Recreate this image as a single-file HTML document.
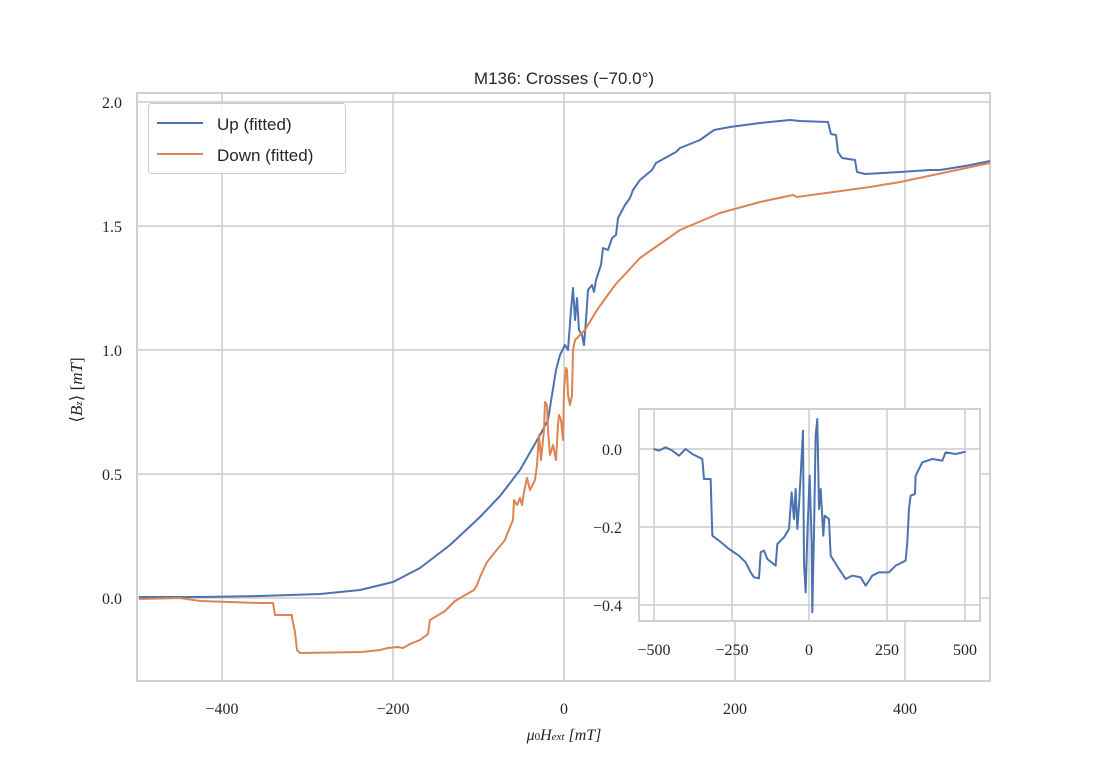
<!DOCTYPE html>
<html><head><meta charset="utf-8"><style>
body{margin:0;background:#fff;}
svg text{font-family:"Liberation Serif",serif;fill:#262626;}
.s{font-family:"Liberation Sans",sans-serif;}
</style></head><body>
<svg width="1101" height="779" viewBox="0 0 1101 779" xmlns="http://www.w3.org/2000/svg">
<rect width="1101" height="779" fill="#fff"/>
<!-- main grid -->
<g stroke="#cccccc" stroke-width="1.5">
<line x1="222" y1="93" x2="222" y2="681"/><line x1="393" y1="93" x2="393" y2="681"/>
<line x1="564" y1="93" x2="564" y2="681"/><line x1="735" y1="93" x2="735" y2="681"/>
<line x1="905" y1="93" x2="905" y2="681"/>
<line x1="137" y1="102" x2="990" y2="102"/><line x1="137" y1="226" x2="990" y2="226"/>
<line x1="137" y1="350" x2="990" y2="350"/><line x1="137" y1="474" x2="990" y2="474"/>
<line x1="137" y1="598" x2="990" y2="598"/>
</g>
<rect x="137" y="93" width="853" height="588" fill="none" stroke="#cccccc" stroke-width="1.8"/>
<!-- up -->
<polyline fill="none" stroke="#4c72b0" stroke-width="2" stroke-linejoin="round" points="139,597 200,597 260,596 320,594 360,590 393,582 420,568 450,545 480,517 500,496 520,470 540,435 548,420 552,395 556,370 560,355 565,345 568,350 571,310 573,288 575,320 577,298 579,330 582,335 584,345 586,320 588,290 592,285 594,292 596,280 601,265 603,248 608,250 612,238 616,235 618,218 625,205 630,198 633,190 640,180 652,170 656,163 665,158 676,152 680,148 700,140 714,130 730,127 760,123 790,120 800,121 828,122 831,134 836,135 838,152 842,158 855,160 857,172 865,174 900,172 930,170 940,170 965,166 990,161"/>
<!-- down -->
<polyline fill="none" stroke="#dd8452" stroke-width="2" stroke-linejoin="round" points="990,163 900,182 870,187 797,197 793,195 760,202 720,213 680,230 640,258 615,285 597,310 585,330 575,340 573,350 572,395 570,405 568,395 567,370 566,368 565,380 564,390 563,440 561,420 559,415 558,425 556,460 553,445 550,455 548,430 547,405 545,402 544,430 541,460 539,435 537,465 535,480 530,490 527,478 524,492 522,505 520,498 517,505 514,500 513,520 508,532 505,540 495,552 487,562 480,577 477,585 474,590 455,601 445,611 430,620 428,634 420,640 410,644 403,648 398,647 388,648 380,650 362,652 300,653 297,650 295,632 292,618 292,615 275,615 273,603 260,603 200,601 180,598 139,599"/>
<!-- ticks -->
<g font-size="16" text-anchor="middle">
<text x="222" y="714">−400</text><text x="393" y="714">−200</text><text x="564" y="714">0</text>
<text x="735" y="714">200</text><text x="905" y="714">400</text>
<text x="564" y="740" font-style="italic">μ<tspan font-size="11" font-style="normal">0</tspan>H<tspan font-size="11">ext</tspan> [mT]</text>
</g>
<g font-size="16" text-anchor="end">
<text x="122" y="108">2.0</text><text x="122" y="232">1.5</text><text x="122" y="356">1.0</text>
<text x="122" y="480">0.5</text><text x="122" y="604">0.0</text>
</g>
<text transform="translate(82,390) rotate(-90)" font-size="17" text-anchor="middle">⟨<tspan font-style="italic">B</tspan><tspan font-size="11" font-style="italic">z</tspan>⟩ [<tspan font-style="italic">mT</tspan>]</text>
<text class="s" x="564" y="84" font-size="17" text-anchor="middle">M136: Crosses (−70.0°)</text>
<!-- legend -->
<rect x="148.5" y="103.5" width="197" height="70" rx="3" fill="#fff" fill-opacity="0.8" stroke="#cccccc"/>
<line x1="157" y1="123" x2="203" y2="123" stroke="#4c72b0" stroke-width="2"/>
<line x1="157" y1="154" x2="203" y2="154" stroke="#dd8452" stroke-width="2"/>
<text class="s" x="217" y="130" font-size="17">Up (fitted)</text>
<text class="s" x="217" y="161" font-size="17">Down (fitted)</text>
<!-- inset -->
<rect x="639" y="409" width="341" height="212" fill="#fff"/>
<g stroke="#cccccc" stroke-width="1.5">
<line x1="654" y1="409" x2="654" y2="621"/><line x1="732" y1="409" x2="732" y2="621"/>
<line x1="809" y1="409" x2="809" y2="621"/><line x1="887" y1="409" x2="887" y2="621"/>
<line x1="965" y1="409" x2="965" y2="621"/>
<line x1="639" y1="449" x2="980" y2="449"/><line x1="639" y1="527" x2="980" y2="527"/>
<line x1="639" y1="605" x2="980" y2="605"/>
</g>
<polyline transform="translate(639,409) scale(0.3333)" fill="none" stroke="#4c72b0" stroke-width="6" stroke-linejoin="round" points="44,120 60,125 80,115 100,125 120,140 140,120 160,135 190,150 195,210 215,210 220,380 240,395 270,420 300,440 320,460 335,490 345,505 360,508 365,430 375,425 385,450 410,470 415,405 435,385 450,360 458,250 465,330 470,240 475,360 480,290 485,200 492,65 495,460 500,550 505,380 512,200 518,400 520,610 525,370 530,80 535,30 540,300 545,240 553,380 557,320 570,330 575,440 600,480 620,510 640,500 665,505 680,530 700,500 720,490 750,490 770,470 800,455 805,400 810,300 815,260 828,255 830,200 850,160 880,150 910,155 920,130 950,135 980,128"/>
<rect x="639" y="409" width="341" height="212" fill="none" stroke="#cccccc" stroke-width="1.8"/>
<g font-size="16" text-anchor="middle">
<text x="654" y="655">−500</text><text x="732" y="655">−250</text><text x="809" y="655">0</text>
<text x="887" y="655">250</text><text x="965" y="655">500</text>
</g>
<g font-size="16" text-anchor="end">
<text x="622" y="455">0.0</text><text x="622" y="533">−0.2</text><text x="622" y="611">−0.4</text>
</g>
</svg>
</body></html>
